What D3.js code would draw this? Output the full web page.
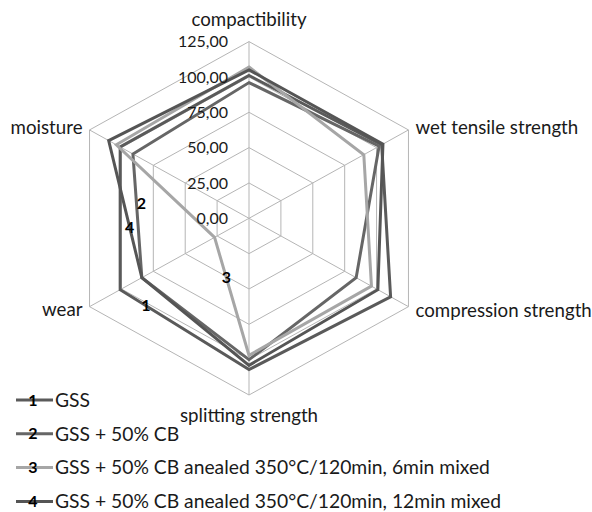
<!DOCTYPE html>
<html lang="en">
<head>
  <meta charset="UTF-8">
  <title>radar</title>
  <style>
    body { margin: 0; background: #fff; }
    text { font-family: Lato, "Noto Sans", sans-serif; fill: #1a1a1a; }
  </style>
</head>
<body>
  <script src="https://cdn.jsdelivr.net/npm/d3@7/dist/d3.min.js"></script>
  <script>
    // data
    let axesNames = ['compactibility', 'wet tensile strength', 'compression strength',
                     'splitting strength', 'wear', 'moisture'];
    let ticks = [0, 25, 50, 75, 100, 125];
    let tickLabels = ['0,00', '25,00', '50,00', '75,00', '100,00', '125,00'];
    let seriesNames = ['GSS', 'GSS + 50% CB',
                       'GSS + 50% CB anealed 350°C/120min, 6min mixed',
                       'GSS + 50% CB anealed 350°C/120min, 12min mixed'];
    let gss      = [101, 104, 111, 107, 101, 101];
    let gssCb    = [96, 102, 84, 100, 84, 91];
    let gssCb6   = [107, 90, 96, 97, 27, 104];
    let gssCb12  = [105, 105, 101, 104, 84, 110];
    let seriesData = [gss, gssCb, gssCb6, gssCb12];
    let colors = ['#5a5a5a', '#666666', '#a6a6a6', '#555555'];

    let width = 592, height = 512;
    let cx = 249, cy = 218.3;
    let stretchX = 1.042;
    let svg = d3.select('body').append('svg')
                .attr('width', width).attr('height', height);

    let r = d3.scaleLinear().domain([0, 125]).range([0, 176.7]);
    let angle = d3.scaleLinear().domain([0, axesNames.length]).range([-Math.PI / 2, 1.5 * Math.PI]);

    function pt(i, v) {
      let a = angle(i);
      return [cx + Math.cos(a) * r(v) * stretchX, cy + Math.sin(a) * r(v)];
    }

    // grid
    let grid = svg.append('g');
    ticks.slice(1).forEach(function(t) {
      let poly = axesNames.map(function(d, i) { return pt(i, t); });
      grid.append('polygon')
          .attr('points', poly.map(function(p) { return p.join(','); }).join(' '))
          .attr('fill', 'none').attr('stroke', '#b5b5b5').attr('stroke-width', 1);
    });
    axesNames.forEach(function(d, i) {
      let p = pt(i, 125);
      grid.append('line')
          .attr('x1', cx).attr('y1', cy).attr('x2', p[0]).attr('y2', p[1])
          .attr('stroke', '#b5b5b5').attr('stroke-width', 1);
    });

    // series
    let line = d3.line().curve(d3.curveLinearClosed);
    svg.selectAll('path.series')
       .data(seriesData)
       .enter()
       .append('path')
       .attr('class', 'series')
       .attr('d', function(d) { return line(d.map(function(v, i) { return pt(i, v); })); })
       .attr('fill', 'none')
       .attr('stroke', function(d, i) { return colors[i]; })
       .attr('stroke-width', 3)
       .attr('stroke-linejoin', 'miter');

    // tick labels
    svg.selectAll('text.tick')
       .data(ticks)
       .enter()
       .append('text')
       .attr('class', 'tick')
       .attr('x', cx - 21)
       .attr('y', function(d) { return cy - r(d); })
       .attr('dy', '0.35em')
       .attr('text-anchor', 'end')
       .attr('font-size', 16)
       .text(function(d, i) { return tickLabels[i]; });

    // axis names
    let anchors = ['middle', 'start', 'start', 'middle', 'end', 'end'];
    let offs = [[0, -22], [7, -2], [7, 4], [0, 20], [-7, 3], [-7, -2]];
    svg.selectAll('text.axis')
       .data(axesNames)
       .enter()
       .append('text')
       .attr('class', 'axis')
       .attr('x', function(d, i) { return pt(i, 125)[0] + offs[i][0]; })
       .attr('y', function(d, i) { return pt(i, 125)[1] + offs[i][1]; })
       .attr('dy', '0.35em')
       .attr('text-anchor', function(d, i) { return anchors[i]; })
       .attr('font-size', 18.7)
       .text(function(d) { return d; });

    // numbered tags on the lines: series, from axis, to axis, t, dx, dy
    let tags = [[0, 4, 3, 0.2, 0, 0], [1, 5, 4, 0.4, 5, 0], [2, 4, 3, 0.34, 0, 0], [3, 5, 4, 0.63, 0, 0]];
    tags.forEach(function(tg) {
      let a = pt(tg[1], seriesData[tg[0]][tg[1]]);
      let b = pt(tg[2], seriesData[tg[0]][tg[2]]);
      svg.append('text')
         .attr('x', a[0] + (b[0] - a[0]) * tg[3] + tg[4])
         .attr('y', a[1] + (b[1] - a[1]) * tg[3] + tg[5])
         .attr('dy', '0.35em')
         .attr('text-anchor', 'middle')
         .attr('font-size', 16)
         .attr('font-weight', 'bold')
         .style('fill', '#000')
         .text(tg[0] + 1);
    });

    // legend
    let legend = svg.selectAll('g.legend')
                    .data(seriesNames)
                    .enter()
                    .append('g')
                    .attr('class', 'legend')
                    .attr('transform', function(d, i) { return 'translate(16,' + (400 + i * 33.8) + ')'; });
    legend.append('line')
          .attr('x1', 0).attr('x2', 37).attr('y1', 0).attr('y2', 0)
          .attr('stroke', function(d, i) { return colors[i]; })
          .attr('stroke-width', 3);
    legend.append('text')
          .attr('x', 17).attr('y', 0).attr('dy', '0.35em')
          .attr('text-anchor', 'middle')
          .attr('font-size', 16).attr('font-weight', 'bold')
          .style('fill', '#000')
          .text(function(d, i) { return i + 1; });
    legend.append('text')
          .attr('x', 39).attr('y', 0).attr('dy', '0.35em')
          .attr('font-size', 19.3)
          .text(function(d) { return d; });
  </script>
</body>
</html>
